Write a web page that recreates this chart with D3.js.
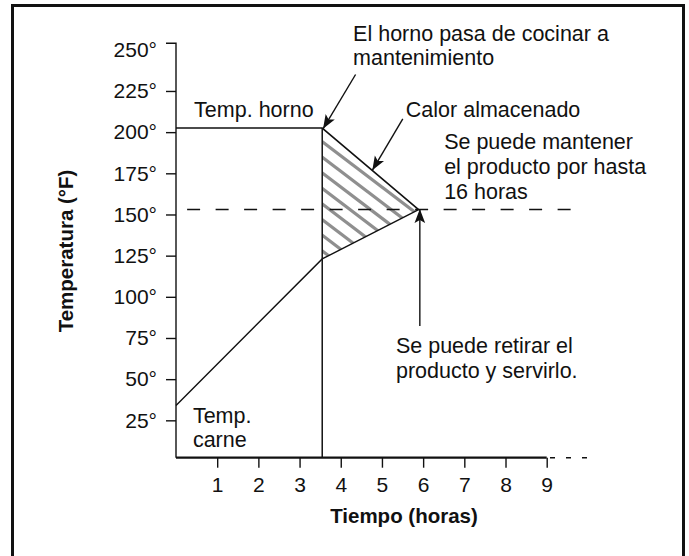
<!DOCTYPE html>
<html>
<head>
<meta charset="utf-8">
<script src="https://cdn.jsdelivr.net/npm/d3@7"></script>
<style>
  html, body { margin: 0; padding: 0; background: #fff; }
  svg { display: block; }
  text { font-family: "Liberation Sans", Arial, Helvetica, sans-serif; fill: #111; }
</style>
</head>
<body>
<svg id="chart" width="689" height="556"></svg>
<script>
// Time axis (hours) and temperature axis (°F)
const hourTicks = [1, 2, 3, 4, 5, 6, 7, 8, 9];
const tempTicks = [25, 50, 75, 100, 125, 150, 175, 200, 225, 250];

// Oven temperature: cooking, then switched to holding
const ovenCurve = [[0, 202.5], [3.55, 202.5], [5.89, 153]];
// Meat temperature rising until it meets the holding temperature
const meatCurve = [[0, 34], [3.55, 123], [5.89, 153]];
// Stored heat region between the two curves after the switch
const storedHeat = [[3.55, 202.5], [5.89, 153], [3.55, 123]];

const switchTime = 3.55;       // oven goes from cook to hold
const holdTemp = 153;          // holding temperature
const holdLine = [0.27, 9.86]; // extent of the dashed holding line
const axisBase = 2.3;          // temperature at which the time axis sits
const axisTop = 254;           // top end of the temperature axis
const axisTail = [9.08, 10.1]; // dotted continuation of the time axis

// Annotations: [x (h), y (°F)] positions
const labels = [
  { lines: ["El horno pasa de cocinar a", "mantenimiento"], at: [4.30, 255.5], lh: 15 },
  { lines: ["Temp. horno"], at: [0.44, 209.2], lh: 0 },
  { lines: ["Calor almacenado"], at: [5.58, 209.2], lh: 0 },
  { lines: ["Se puede mantener", "el producto por hasta", "16 horas"], at: [6.51, 189.8], lh: 15.2 },
  { lines: ["Se puede retirar el", "producto y servirlo."], at: [5.34, 65.9], lh: 15 },
  { lines: ["Temp.", "carne"], at: [0.41, 23.4], lh: 14.4 }
];
const arrows = [
  { from: [4.36, 235], to: [3.57, 202] },
  { from: [5.506, 208.1], to: [4.766, 176.8] },
  { from: [5.92, 82.3], to: [5.92, 153.3] }
];

const svg = d3.select("#chart");

const x = d3.scaleLinear().domain([0, 9]).range([176, 546.7]);
const y = d3.scaleLinear().domain([0, 250]).range([461.5, 49.8]);

// Outer frame (open at the bottom)
svg.append("path")
  .attr("d", "M12.5,556V5.5H683.5V556")
  .attr("fill", "none").attr("stroke", "#111").attr("stroke-width", 3);

const defs = svg.append("defs");
defs.append("marker")
  .attr("id", "head").attr("viewBox", "0 0 10 10")
  .attr("refX", 10).attr("refY", 5)
  .attr("markerWidth", 14).attr("markerHeight", 14)
  .attr("markerUnits", "userSpaceOnUse")
  .attr("orient", "auto")
  .append("path").attr("d", "M0,1.2L10,5L0,8.8L2.2,5Z").attr("fill", "#111");

const line = d3.line().x(d => x(d[0])).y(d => y(d[1]));

// Hatching for stored heat
defs.append("clipPath").attr("id", "heatClip")
  .append("path").attr("d", line(storedHeat) + "Z");
const hatch = svg.append("g").attr("clip-path", "url(#heatClip)");
const x0 = x(switchTime), yTop = y(storedHeat[0][1]);
const slope = 0.76, gap = 15.6;
for (let k = -2; k < 12; k++) {
  const yl = yTop - 2 + gap * k;
  hatch.append("line")
    .attr("x1", x0 - 5).attr("y1", yl - 5 * slope)
    .attr("x2", x0 + 140).attr("y2", yl + 140 * slope)
    .attr("stroke", "#8f8f8f").attr("stroke-width", 3.2);
}

// Dashed holding temperature line
svg.append("line")
  .attr("x1", x(holdLine[0])).attr("x2", x(holdLine[1]))
  .attr("y1", y(holdTemp)).attr("y2", y(holdTemp))
  .attr("stroke", "#111").attr("stroke-width", 1.5)
  .attr("stroke-dasharray", "13,15.5");

// Temperature curves
svg.append("path").attr("d", line(ovenCurve))
  .attr("fill", "none").attr("stroke", "#111").attr("stroke-width", 1.6);
svg.append("path").attr("d", line(meatCurve))
  .attr("fill", "none").attr("stroke", "#111").attr("stroke-width", 1.4);

// Switch-over line
svg.append("line")
  .attr("x1", x(switchTime)).attr("x2", x(switchTime))
  .attr("y1", y(axisBase)).attr("y2", y(ovenCurve[1][1]))
  .attr("stroke", "#111").attr("stroke-width", 1.5);

// Temperature axis
const yAxis = svg.append("g").attr("transform", `translate(${x(0)},0)`)
  .call(d3.axisLeft(y).tickValues(tempTicks).tickSize(10).tickSizeOuter(0)
    .tickPadding(9).tickFormat(d => d + "°"));
yAxis.select(".domain").remove();
yAxis.selectAll(".tick").filter(d => d === 250).select("line").remove();
yAxis.selectAll(".tick line").attr("stroke", "#111").attr("stroke-width", 1.4);
yAxis.selectAll(".tick text").style("font-size", "21px").attr("fill", "#111");
svg.append("path")
  .attr("d", `M${x(0) - 10},${y(axisTop)}H${x(0)}V${y(axisBase)}`)
  .attr("fill", "none").attr("stroke", "#111").attr("stroke-width", 1.4);

// Time axis
const xAxis = svg.append("g").attr("transform", `translate(0,${y(axisBase)})`)
  .call(d3.axisBottom(x).tickValues(hourTicks).tickSize(10).tickSizeOuter(0)
    .tickPadding(9).tickFormat(d3.format("d")));
xAxis.select(".domain").remove();
xAxis.selectAll(".tick line").attr("stroke", "#111").attr("stroke-width", 1.4);
xAxis.selectAll(".tick text").style("font-size", "21px").attr("fill", "#111");
svg.append("line")
  .attr("x1", x(0)).attr("x2", x(9))
  .attr("y1", y(axisBase)).attr("y2", y(axisBase))
  .attr("stroke", "#111").attr("stroke-width", 2.2);
svg.append("line")
  .attr("x1", x(axisTail[0])).attr("x2", x(axisTail[1]))
  .attr("y1", y(axisBase)).attr("y2", y(axisBase))
  .attr("stroke", "#111").attr("stroke-width", 1.4)
  .attr("stroke-dasharray", "5,11");

// Axis titles
svg.append("text")
  .attr("x", 404).attr("y", 523)
  .attr("text-anchor", "middle")
  .style("font-size", "20.5px").style("font-weight", "bold")
  .text("Tiempo (horas)");
svg.append("text")
  .attr("transform", "translate(73,251) rotate(-90)")
  .attr("text-anchor", "middle")
  .style("font-size", "20.5px").style("font-weight", "bold")
  .text("Temperatura (°F)");

// Annotation text
labels.forEach(l => {
  const t = svg.append("text")
    .attr("x", x(l.at[0])).attr("y", y(l.at[1]))
    .style("font-size", "21.5px");
  l.lines.forEach((s, i) => {
    t.append("tspan").attr("x", x(l.at[0]))
      .attr("y", y(l.at[1] - i * l.lh)).text(s);
  });
});

// Annotation arrows
arrows.forEach(a => {
  svg.append("line")
    .attr("x1", x(a.from[0])).attr("y1", y(a.from[1]))
    .attr("x2", x(a.to[0])).attr("y2", y(a.to[1]))
    .attr("stroke", "#111").attr("stroke-width", 1.4)
    .attr("marker-end", "url(#head)");
});
</script>
</body>
</html>
